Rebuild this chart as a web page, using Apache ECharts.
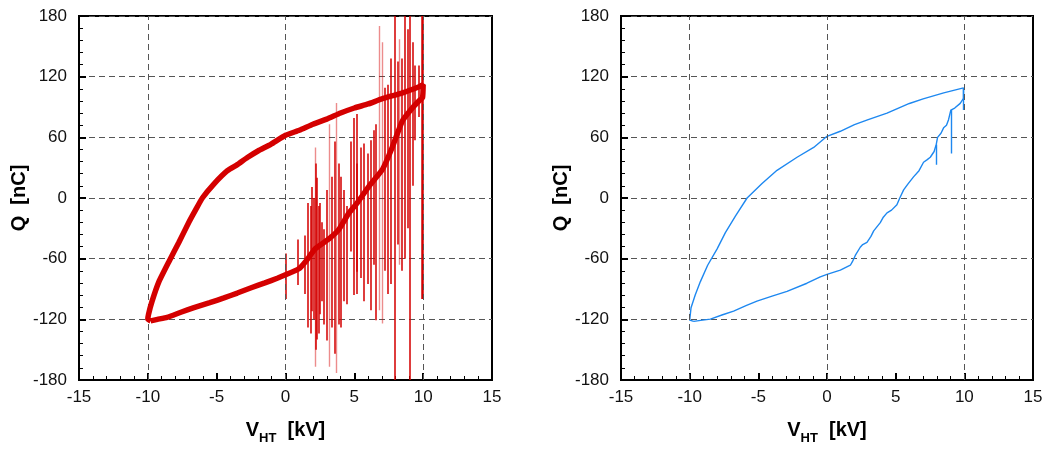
<!DOCTYPE html>
<html>
<head>
<meta charset="utf-8">
<script src="https://cdn.jsdelivr.net/npm/echarts@6/dist/echarts.min.js"></script>
<style>html,body{margin:0;padding:0;background:#fff}#c{width:1049px;height:450px}</style>
</head>
<body>
<div id="c"></div>
<script>
// Axis ranges / ticks
const xRange = [-15, 15], xStep = 5;
const yRange = [-180, 180], yStep = 60;
const xGridLines = [-10, 0, 10];

// Left panel (red): closed Q-V loop [V kV, Q nC]
const leftLoop = [
  [-9.8,-121.5],[-9.3,-120],[-8.6,-118],[-7.6,-113],[-6.65,-108.5],[-5.5,-103.5],[-4.47,-98.8],
  [-3.5,-94],[-2.54,-89],[-1.5,-84],[-0.6,-79.4],[0,-76],[0.97,-70],[1.45,-63],[2.18,-50],
  [3.15,-40.5],[3.88,-31],[4.6,-15],[5.2,-5],[6.06,11.5],[7.03,28],[7.75,50],[8.48,76],
  [9.21,89],[9.69,96],[9.95,99],[10,112],
  [9.7,110],[8.5,104],[7,98],[6,93],[5,89],[4,84],[3,78],[2,73],[1,67],[0,62],[-1.07,53],
  [-2,46.5],[-2.77,40],[-3.5,33],[-4.22,27],[-5.19,14],[-6.04,0],[-6.5,-11],[-7.02,-24],
  [-7.75,-44],[-8.47,-63],[-9.2,-83],[-9.69,-102],[-9.95,-115],[-10,-120],[-9.8,-121.5]
];
// Left panel noise spikes [V, Qlow, Qhigh]
const leftSpikes = [
  [0.0,-100,-55],[0.92,-86,-41],[1.4,-95,-37],[1.65,-128,-5],[1.82,-134,-8],[1.94,-112,11],
  [2.05,-120,0],[2.23,-150,34],[2.3,-140,20],[2.42,-134,-8],[2.5,-115,-5],[2.62,-102,-24],
  [2.79,-125,-31],[3.03,-141,8],[3.39,-128,21],[3.59,-154,56],[3.88,-125,34],[4.0,-128,21],
  [4.24,-102,8],[4.48,-105,-8],[4.72,-53,56],[4.97,-96,79],[5.14,-73,34],[5.21,-95,83],
  [5.45,-79,50],[5.7,-102,54],[5.94,-85,44],[6.18,-111,57],[6.42,-66,67],[6.59,-121,73],
  [7.22,-72,109],[7.46,-95,112],[7.63,-85,138],[7.95,-180,180],[8.12,-46,135],[8.48,-72,138],
  [8.68,-60,180],[8.85,-30,167],[9.02,-180,180],[9.21,12,154],[9.4,57,131],[9.69,80,131]
];
const leftFaintSpikes = [
  [2.13,-167,50],[3.15,-167,73],[3.7,-173,94],[6.83,-111,170],[7.03,-124,154],[8.24,-66,157]
];
const leftEdgeSpike = [[9.9,-100,180]];

// Right panel (blue): closed Q-V loop
const rightLoop = [
  [-9.7,-122],[-9.2,-121],[-8.49,-119.8],[-7.6,-115.5],[-6.8,-111.8],[-5.9,-106.5],[-5.1,-102],
  [-4,-97],[-2.91,-92.4],[-1.46,-84.3],[-0.49,-78],[0,-75.5],[0.97,-71.3],[1.7,-66.5],[1.85,-63],
  [2.06,-56.8],[2.42,-48.7],[2.6,-46],[2.91,-43.8],[3.2,-38],[3.4,-32.5],[3.88,-24.4],[4.1,-19],
  [4.37,-14.7],[4.7,-12],[5.09,-6.6],[5.3,0],[5.58,8],[5.9,14],[6.3,20.9],[6.7,27],[7.03,35.4],
  [7.3,38],[7.52,40.3],[7.8,46],[7.96,53.2],[8.05,60],[8.3,64],[8.49,69.4],[8.7,72],[8.85,77.5],
  [9.02,87],[9.3,89],[9.7,93.6],[9.94,98.5],[9.94,108.9],
  [9.8,109],[8.5,104],[7,98],[6,93.5],[4.37,84],[3,77.5],[2,72.5],[0.97,66],[0,61],[-0.97,50],
  [-2.18,40.3],[-3.64,27.4],[-4.73,14.4],[-5.82,0],[-6.67,-18],[-7.4,-34.2],[-8.0,-50.3],
  [-8.69,-66.5],[-9.22,-82.7],[-9.59,-95.6],[-9.9,-108.5],[-10,-120.8],[-9.7,-122]
];
const rightSpikes = [[7.96,33,53],[9.02,44,87],[9.92,87,108]];

const FONT = 'Liberation Sans, Arial, sans-serif';
const RED = '#d40000', BLUE = '#1e88f0';

function xAxis(gi) {
  return {
    gridIndex: gi, type: 'value', min: xRange[0], max: xRange[1], interval: xStep,
    name: '{b|V}{s|HT}{b|  [kV]}', nameLocation: 'middle', nameGap: 36,
    nameTextStyle: { rich: {
      b: { fontFamily: FONT, fontSize: 20, fontWeight: 'bold', color: '#000', lineHeight: 24, verticalAlign: 'bottom' },
      s: { fontFamily: FONT, fontSize: 13, fontWeight: 'bold', color: '#000', lineHeight: 24, verticalAlign: 'bottom', padding: [0, 0, -5, 0] }
    }},
    axisLine: { show: true, onZero: false, lineStyle: { color: '#000', width: 2 } },
    axisTick: { show: true, inside: true, length: 7, lineStyle: { color: '#000', width: 2 } },
    minorTick: { show: true, splitNumber: 5, length: 4, lineStyle: { color: '#000', width: 1 } },
    axisLabel: { fontFamily: FONT, fontSize: 17, color: '#111', margin: 9 },
    splitLine: { show: false },
    minorSplitLine: { show: false }
  };
}
function yAxis(gi) {
  return {
    gridIndex: gi, type: 'value', min: yRange[0], max: yRange[1], interval: yStep,
    name: 'Q  [nC]', nameLocation: 'middle', nameGap: 48,
    nameTextStyle: { fontFamily: FONT, fontSize: 20, fontWeight: 'bold', color: '#000' },
    axisLine: { show: true, onZero: false, lineStyle: { color: '#000', width: 2 } },
    axisTick: { show: true, inside: true, length: 7, lineStyle: { color: '#000', width: 2 } },
    minorTick: { show: true, splitNumber: 5, length: 4, lineStyle: { color: '#000', width: 1 } },
    axisLabel: { fontFamily: FONT, fontSize: 17, color: '#111', margin: 12 },
    splitLine: { show: true, lineStyle: { color: '#555', width: 1, type: [6, 4] } }
  };
}
function gridX(gi) {
  return {
    type: 'line', xAxisIndex: gi, yAxisIndex: gi, data: [], silent: true, z: 1,
    markLine: {
      silent: true, symbol: 'none', label: { show: false }, animation: false,
      lineStyle: { color: '#555', width: 1, type: [6, 4] },
      data: xGridLines.map(v => ({ xAxis: v }))
    }
  };
}
function spikeLines(arr, gi, color, width, opacity) {
  return {
    type: 'lines', coordinateSystem: 'cartesian2d', xAxisIndex: gi, yAxisIndex: gi,
    polyline: false, silent: true, clip: true, z: 3,
    lineStyle: { color: color, width: width, opacity: opacity },
    data: arr.map(s => ({ coords: [[s[0], s[1]], [s[0], s[2]]] }))
  };
}

const chart = echarts.init(document.getElementById('c'), null, { renderer: 'canvas' });
chart.setOption({
  animation: false,
  backgroundColor: '#fff',
  grid: [
    { left: 79, top: 16, width: 413, height: 371, show: true, borderColor: '#000', borderWidth: 2, backgroundColor: 'transparent' },
    { left: 621, top: 16, width: 412, height: 371, show: true, borderColor: '#000', borderWidth: 2, backgroundColor: 'transparent' }
  ],
  xAxis: [xAxis(0), xAxis(1)],
  yAxis: [yAxis(0), yAxis(1)],
  series: [
    gridX(0), gridX(1),
    spikeLines(leftFaintSpikes, 0, RED, 1.4, 0.45),
    spikeLines(leftSpikes, 0, RED, 1.7, 0.9),
    spikeLines(leftEdgeSpike, 0, RED, 2.5, 1),
    { type: 'line', xAxisIndex: 0, yAxisIndex: 0, data: leftLoop, showSymbol: false, smooth: 0.15,
      lineStyle: { color: RED, width: 5.5 }, z: 5, clip: true, silent: true },
    { type: 'line', xAxisIndex: 1, yAxisIndex: 1, data: rightLoop, showSymbol: false,
      lineStyle: { color: BLUE, width: 1.4 }, z: 4, clip: true, silent: true },
    spikeLines(rightSpikes, 1, BLUE, 1.4, 1)
  ]
});
</script>
</body>
</html>
